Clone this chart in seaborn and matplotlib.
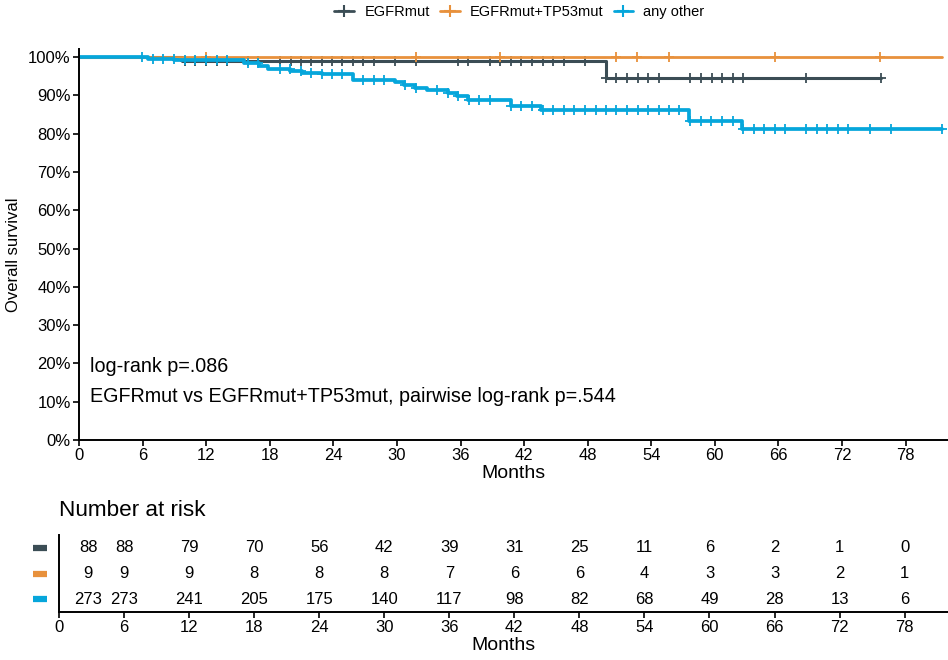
import numpy as np
import pandas as pd
import matplotlib
matplotlib.use("Agg")
import matplotlib.pyplot as plt
import matplotlib.transforms as mtransforms
from matplotlib.lines import Line2D
from matplotlib.ticker import PercentFormatter, MultipleLocator
import seaborn as sns

# ---------------- data ----------------
groups = ["EGFRmut", "EGFRmut+TP53mut", "any other"]
colors = ["#3b4d55", "#e8913c", "#06a6db"]

egfr_time = [0, 9.7, 49.7, 75.65]
egfr_surv = [1.0, 0.9886, 0.944, 0.944]
egfr_cens = [9.99, 10.93, 11.94, 12.98, 13.92, 15.96, 16.90, 18.94, 20.05, 20.99,
             21.93, 22.95, 23.89, 24.83, 25.85, 26.80, 27.80, 29.78, 31.79, 35.80,
             36.75, 38.74, 39.77, 40.78, 41.75, 42.79, 43.76, 44.77, 45.76, 47.74,
             49.7, 50.68, 51.68, 52.71, 53.72, 54.69, 57.65, 58.69, 59.69, 60.67,
             61.67, 62.67, 68.64, 75.65]

tp53_time = [0, 81.46]
tp53_surv = [1.0, 1.0]
tp53_cens = [12.0, 31.8, 39.7, 50.7, 52.7, 55.7, 65.7, 75.6]

other_time = [0, 6.5, 9.0, 14.9, 15.6, 17.0, 17.85, 19.9, 21.0, 22.9, 25.85, 29.8,
              30.7, 31.7, 32.8, 34.8, 35.7, 36.7, 40.8, 43.6, 57.6, 62.6, 81.46]
other_surv = [1.0, 0.996, 0.993, 0.991, 0.984, 0.977, 0.969, 0.963, 0.958, 0.955,
              0.941, 0.936, 0.928, 0.919, 0.913, 0.906, 0.897, 0.889, 0.871, 0.862,
              0.832, 0.812, 0.812]
other_cens = [5.91, 7.00, 7.95, 8.98, 9.99, 10.93, 11.94, 12.98, 13.92, 15.96, 16.90,
              18.94, 19.89, 20.99, 21.93, 22.90, 23.85, 24.83, 26.80, 27.80, 28.75,
              30.73, 31.76, 33.74, 34.81, 35.75, 36.80, 37.79, 38.74, 40.81, 41.75,
              42.70, 43.76, 44.77, 45.76, 46.75, 47.74, 48.77, 49.74, 50.68, 51.70,
              52.71, 53.72, 54.69, 55.70, 56.64, 57.66, 58.67, 59.68, 60.67, 61.67,
              62.68, 63.65, 64.66, 65.66, 66.63, 68.64, 69.62, 70.62, 71.63, 72.60,
              74.60, 76.60, 81.46]

risk_times = [0, 6, 12, 18, 24, 30, 36, 42, 48, 54, 60, 66, 72, 78]
risk_egfr = [88, 88, 79, 70, 56, 42, 39, 31, 25, 11, 6, 2, 1, 0]
risk_tp53 = [9, 9, 9, 8, 8, 8, 7, 6, 6, 4, 3, 3, 2, 1]
risk_other = [273, 273, 241, 205, 175, 140, 117, 98, 82, 68, 49, 28, 13, 6]

logrank_text = "log-rank p=.086"
pairwise_text = "EGFRmut vs EGFRmut+TP53mut, pairwise log-rank p=.544"

# ---------------- style ----------------
sns.set_theme(style="ticks")
plt.rcParams['font.family'] = ['Liberation Sans', 'DejaVu Sans']
plt.rcParams['axes.edgecolor'] = 'black'
plt.rcParams['xtick.color'] = 'black'
plt.rcParams['ytick.color'] = 'black'
plt.rcParams['text.color'] = 'black'
plt.rcParams['axes.labelcolor'] = 'black'

W, H = 948, 660
fig = plt.figure(figsize=(W / 100, H / 100), dpi=100)

ax = fig.add_axes([79 / W, 1 - 440 / H, 1 - 79 / W, 391 / H])

curves = [(egfr_time, egfr_surv, egfr_cens),
          (tp53_time, tp53_surv, tp53_cens),
          (other_time, other_surv, other_cens)]
lws = [2.2, 2.0, 2.7]

for (t, s, c), g, col, lw in zip(curves, groups, colors, lws):
    df = pd.DataFrame({"time": t, "surv": s})
    sns.lineplot(data=df, x="time", y="surv", drawstyle="steps-post", estimator=None,
                 sort=False, color=col, linewidth=lw, ax=ax, legend=False)
    t_arr = np.asarray(t)
    s_arr = np.asarray(s)
    idx = np.searchsorted(t_arr, np.asarray(c), side="right") - 1
    ax.plot(c, s_arr[idx], linestyle="none", marker="+", markersize=7.5,
            markeredgewidth=1.3, color=col, clip_on=False)

ax.set_xlim(0, 82)
ax.set_ylim(0, 1.021)
ax.yaxis.set_major_locator(MultipleLocator(0.1))
ax.yaxis.set_major_formatter(PercentFormatter(xmax=1, decimals=0))
ax.set_xticks(risk_times)
ax.set_xlabel("Months", fontsize=14, labelpad=1)
ax.set_ylabel("Overall survival", fontsize=12)
ax.yaxis.set_label_coords((21.5 - 79) / 869, (440 - 254.5) / 391)
ax.tick_params(axis="both", direction="out", length=4, width=1.2, labelsize=12, pad=2)
for sp in ["top", "right"]:
    ax.spines[sp].set_visible(False)
for sp in ["left", "bottom"]:
    ax.spines[sp].set_linewidth(1.4)

ax.text(11 / 869, (440 - 367) / 391, logrank_text, transform=ax.transAxes,
        fontsize=14.2, va="center", ha="left")
ax.text(11 / 869, (440 - 397) / 391, pairwise_text, transform=ax.transAxes,
        fontsize=14.2, va="center", ha="left")

handles = [Line2D([], [], color=col, lw=2, marker="+", markersize=9, markeredgewidth=1.5)
           for col in colors]
fig.legend(handles, groups, loc="center", bbox_to_anchor=(519.5 / W, 1 - 12 / H),
           ncol=3, frameon=False, fontsize=10.5, handlelength=1.35,
           columnspacing=0.7, handletextpad=0.7, borderpad=0.2)

# ---------------- risk table ----------------
rax = fig.add_axes([59 / W, 1 - 612 / H, 1 - 59 / W, 77 / H])
rax.set_xlim(0, 82)
rax.set_ylim(0, 3)
rax.set_xticks(risk_times)
rax.set_yticks([])
rax.set_xlabel("Months", fontsize=14, labelpad=1)
rax.tick_params(axis="x", direction="out", length=4, width=1.2, labelsize=12, pad=2)
for sp in ["top", "right"]:
    rax.spines[sp].set_visible(False)
for sp in ["left", "bottom"]:
    rax.spines[sp].set_linewidth(1.4)

row_y = [2.5, 1.5, 0.5]
label_x = np.maximum(np.asarray(risk_times, dtype=float), 2.7)
trans = mtransforms.blended_transform_factory(rax.transAxes, rax.transData)
for counts, col, y in zip([risk_egfr, risk_tp53, risk_other], colors, row_y):
    for x, n in zip(label_x, counts):
        rax.text(x, y, str(n), ha="center", va="center", fontsize=12)
    rax.plot([-0.0292, -0.0135], [y, y], color=col, lw=4.5, transform=trans,
             clip_on=False, solid_capstyle="butt")

fig.text(59 / W, 1 - 510 / H, "Number at risk", fontsize=16.2, ha="left", va="center")

fig.savefig("out.png", dpi=100)
